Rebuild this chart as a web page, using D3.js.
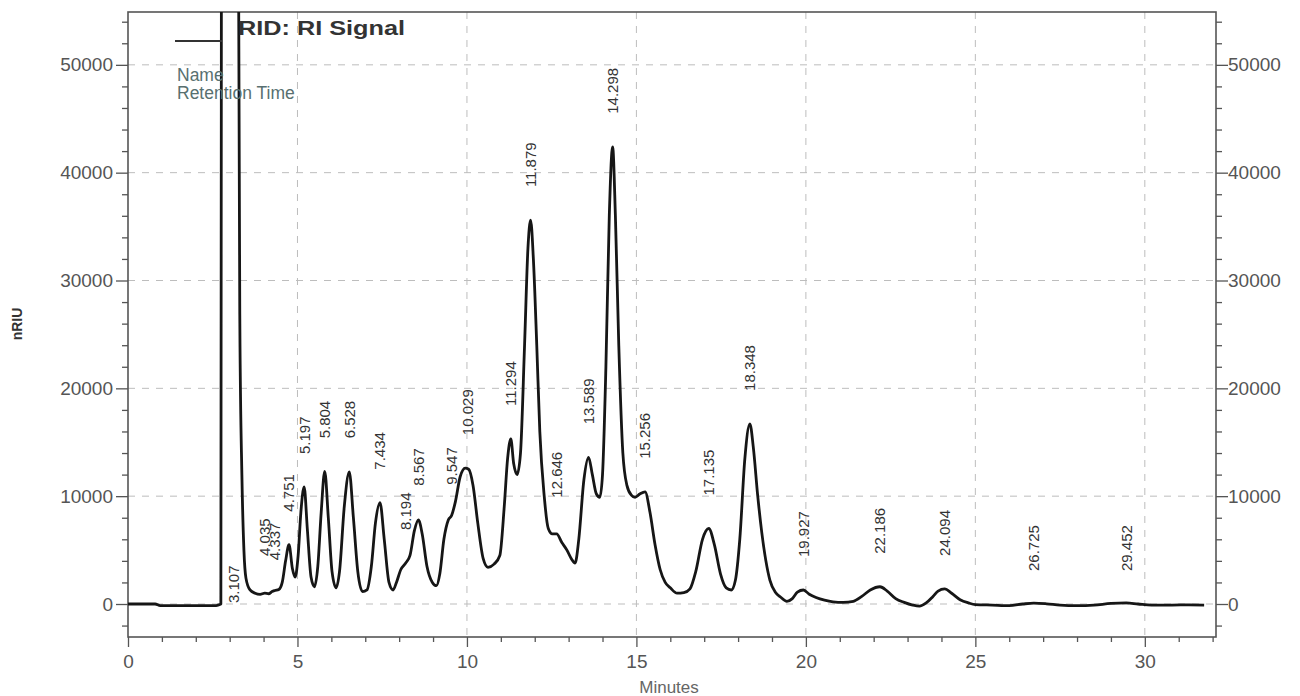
<!DOCTYPE html>
<html>
<head>
<meta charset="utf-8">
<script src="https://cdn.jsdelivr.net/npm/d3@7"></script>
<style>
  body { margin: 0; background: #fff; }
  svg { display: block; font-family: "Liberation Sans", Arial, sans-serif; }
</style>
</head>
<body>
<div id="chart"></div>
<script>
// trace (minutes, nRIU)
const traceTime = [
  0.00, 0.80, 0.95, 2.60, 2.70, 2.74, 2.76, 2.90, 3.10, 3.22, 3.25, 3.30, 3.36, 3.42, 3.48, 3.60, 3.75, 3.90,
  4.035, 4.15, 4.25, 4.337, 4.45, 4.55, 4.65, 4.751, 4.85, 4.93, 5.02, 5.10, 5.197, 5.29, 5.40, 5.50,
  5.60, 5.70, 5.804, 5.91, 6.02, 6.14, 6.24, 6.38, 6.528, 6.65, 6.78, 6.92, 7.05, 7.18, 7.30, 7.434,
  7.56, 7.70, 7.82, 7.92, 8.05, 8.194, 8.32, 8.45, 8.567, 8.68, 8.82, 8.98, 9.10, 9.20, 9.32, 9.45,
  9.547, 9.66, 9.80, 9.95, 10.05, 10.18, 10.32, 10.48, 10.62, 10.80, 10.97, 11.10, 11.20, 11.294, 11.38,
  11.48, 11.58, 11.70, 11.80, 11.879, 11.96, 12.06, 12.15, 12.28, 12.40, 12.52, 12.646, 12.80, 12.95,
  13.08, 13.19, 13.30, 13.45, 13.589, 13.70, 13.82, 13.92, 14.00, 14.10, 14.20, 14.298, 14.38, 14.48,
  14.60, 14.72, 14.85, 14.96, 15.10, 15.256, 15.40, 15.55, 15.70, 15.85, 16.00, 16.20, 16.40, 16.58,
  16.75, 16.95, 17.135, 17.30, 17.48, 17.65, 17.80, 17.92, 18.05, 18.20, 18.348, 18.45, 18.58, 18.70,
  18.82, 18.94, 19.10, 19.25, 19.44, 19.60, 19.75, 19.927, 20.10, 20.30, 20.55, 20.80, 21.10, 21.40,
  21.65, 21.90, 22.186, 22.40, 22.65, 22.90, 23.15, 23.35, 23.55, 23.75, 23.90, 24.094, 24.30, 24.55,
  24.80, 25.00, 25.50, 26.00, 26.40, 26.725, 27.10, 27.50, 28.00, 28.50, 29.00, 29.452, 29.80, 30.20,
  30.80, 31.30, 31.75
];
const traceSignal = [
  0, 0, -150, -150, -50, 0, 80000, 400000, 500000, 200000, 70000, 26000, 12000, 5000, 2400, 1300, 1000, 900,
  1000, 950, 1150, 1250, 1350, 2000, 4000, 5500, 3300, 2500, 4500, 8500, 10850, 7000, 2500, 1600,
  3500, 8500, 12300, 8000, 3000, 1500, 3000, 9000, 12250, 8000, 3000, 1150, 1300, 3500, 7500, 9400,
  6000, 2000, 1300, 2000, 3200, 3800, 4500, 6800, 7800, 6500, 3500, 2000, 1700, 2800, 6000, 7800,
  8200, 9500, 11800, 12600, 12500, 11000, 7500, 4200, 3400, 3700, 4500, 9000, 13500, 15300, 13000,
  12000, 14000, 24000, 33000, 35600, 32000, 24000, 16000, 10000, 7000, 6500, 6500, 5700, 5000,
  4200, 3800, 6000, 11500, 13600, 12000, 10200, 9900, 12000, 22000, 36000, 42400, 36000, 24000,
  14000, 11000, 10100, 9900, 10200, 10400, 8500, 5500, 3200, 2000, 1500, 1000, 1050, 1400,
  3000, 6000, 7000, 5500, 2800, 1500, 1300, 2200, 6000, 13500, 16700, 14500, 10000, 6600,
  4000, 2200, 1100, 650, 250, 500, 1100, 1300, 900, 600, 350, 200, 150, 250,
  700, 1300, 1600, 1200, 500, 150, -100, -200, 100, 700, 1200, 1400, 1000, 400,
  100, -50, -100, -150, 0, 80, 20, -100, -150, -100, 50, 100, 0, -100,
  -100, -80, -100
];

// peak annotations
const peakTimes = [3.107, 4.035, 4.337, 4.751, 5.197, 5.804, 6.528, 7.434, 8.194, 8.567, 9.547, 10.029,
  11.294, 11.879, 12.646, 13.589, 14.298, 15.256, 17.135, 18.348, 19.927, 22.186, 24.094, 26.725, 29.452];
const peakLabels = ["3.107", "4.035", "4.337", "4.751", "5.197", "5.804", "6.528", "7.434", "8.194", "8.567",
  "9.547", "10.029", "11.294", "11.879", "12.646", "13.589", "14.298", "15.256", "17.135", "18.348",
  "19.927", "22.186", "24.094", "26.725", "29.452"];
const peakApex = [500000, 1400, 1000, 5500, 10850, 12300, 12300, 9400, 3800, 7900, 8000, 12600,
  15300, 35600, 6800, 13600, 42400, 10400, 7000, 16700, 1300, 1600, 1400, 0, 0];

const xTicks = [0, 5, 10, 15, 20, 25, 30];
const yTicks = [0, 10000, 20000, 30000, 40000, 50000];

const W = 1300, H = 696;
const plot = {left: 128, right: 1216, top: 12, bottom: 637};

const x = d3.scaleLinear().domain([0, 32.1]).range([plot.left, plot.right]);
const y = d3.scaleLinear().domain([-3060, 54900]).range([plot.bottom, plot.top]);

const svg = d3.select('#chart').append('svg')
  .attr('width', W).attr('height', H);

svg.append('clipPath').attr('id', 'clip')
  .append('rect')
    .attr('x', plot.left).attr('y', plot.top)
    .attr('width', plot.right - plot.left).attr('height', plot.bottom - plot.top);

// grid
const grid = svg.append('g').attr('stroke', '#bdbdbd').attr('stroke-width', 1).attr('stroke-dasharray', '7,7');
grid.selectAll('.gx').data(xTicks.filter(d => d > 0)).enter().append('line')
  .attr('x1', d => x(d)).attr('x2', d => x(d))
  .attr('y1', plot.top).attr('y2', plot.bottom);
grid.selectAll('.gy').data(yTicks).enter().append('line')
  .attr('y1', d => y(d)).attr('y2', d => y(d))
  .attr('x1', plot.left).attr('x2', plot.right);

// minor ticks
const xMinor = d3.range(0, 33, 1).filter(d => d % 5 !== 0);
const yMinor = d3.range(-2000, 55000, 2000).filter(d => d % 10000 !== 0);

let styleAxis = function(g) {
  g.select('.domain').remove();
  g.selectAll('line').attr('stroke', '#555').attr('stroke-width', 1.3);
  g.selectAll('text').attr('fill', '#555').style('font-size', '19px');
};

svg.append('g').attr('transform', 'translate(' + plot.left + ',0)')
  .call(d3.axisLeft(y).tickValues(yTicks).tickSize(12).tickPadding(3).tickFormat(d3.format('d')))
  .call(styleAxis);
svg.append('g').attr('transform', 'translate(' + plot.left + ',0)')
  .call(d3.axisLeft(y).tickValues(yMinor).tickSize(6).tickFormat(''))
  .call(styleAxis);
svg.append('g').attr('transform', 'translate(' + plot.right + ',0)')
  .call(d3.axisRight(y).tickValues(yTicks).tickSize(12).tickPadding(0).tickFormat(d3.format('d')))
  .call(styleAxis);
svg.append('g').attr('transform', 'translate(' + plot.right + ',0)')
  .call(d3.axisRight(y).tickValues(yMinor).tickSize(6).tickFormat(''))
  .call(styleAxis);
svg.append('g').attr('transform', 'translate(0,' + plot.bottom + ')')
  .call(d3.axisBottom(x).tickValues(xTicks).tickSize(10).tickPadding(8))
  .call(styleAxis);
svg.append('g').attr('transform', 'translate(0,' + plot.bottom + ')')
  .call(d3.axisBottom(x).tickValues(xMinor).tickSize(5).tickFormat(''))
  .call(styleAxis);

// frame
svg.append('rect')
  .attr('x', plot.left).attr('y', plot.top)
  .attr('width', plot.right - plot.left).attr('height', plot.bottom - plot.top)
  .attr('fill', 'none').attr('stroke', '#555').attr('stroke-width', 1.6);

// signal trace
const line = d3.line()
  .x((d, i) => x(traceTime[i]))
  .y((d, i) => y(traceSignal[i]))
  .curve(d3.curveMonotoneX);

svg.append('path')
  .datum(traceTime)
  .attr('clip-path', 'url(#clip)')
  .attr('d', line)
  .attr('fill', 'none')
  .attr('stroke', '#161616')
  .attr('stroke-width', 2.8)
  .attr('stroke-linejoin', 'round');

// peak labels (rotated)
svg.append('g').selectAll('text')
  .data(peakTimes).enter().append('text')
  .attr('transform', function(d, i) {
    let top = y.domain()[1];
    let yy = peakApex[i] > top ? y(0) - 1 : y(peakApex[i]) - 33;
    return 'translate(' + x(d) + ',' + yy + ') rotate(-90)';
  })
  .attr('dy', '0.36em')
  .attr('text-anchor', 'start')
  .attr('fill', '#333')
  .style('font-size', '15px')
  .text((d, i) => peakLabels[i]);

// legend
svg.append('line')
  .attr('x1', 175).attr('x2', 222).attr('y1', 41).attr('y2', 41)
  .attr('stroke', '#333').attr('stroke-width', 2);
svg.append('text')
  .attr('x', 238).attr('y', 35)
  .attr('textLength', 167).attr('lengthAdjust', 'spacingAndGlyphs')
  .attr('fill', '#333').style('font-size', '21px').style('font-weight', 'bold')
  .text('RID: RI Signal');
svg.append('text')
  .attr('x', 177).attr('y', 81)
  .attr('fill', '#587070').style('font-size', '17.5px')
  .text('Name');
svg.append('text')
  .attr('x', 177).attr('y', 99)
  .attr('fill', '#587070').style('font-size', '17.5px')
  .text('Retention Time');

// axis titles
svg.append('text')
  .attr('transform', 'translate(17,324) rotate(-90)')
  .attr('text-anchor', 'middle').attr('dy', '0.35em')
  .attr('fill', '#333').style('font-size', '14px').style('font-weight', 'bold')
  .text('nRIU');
svg.append('text')
  .attr('x', 669).attr('y', 693)
  .attr('text-anchor', 'middle')
  .attr('fill', '#666').style('font-size', '17px')
  .text('Minutes');
</script>
</body>
</html>
